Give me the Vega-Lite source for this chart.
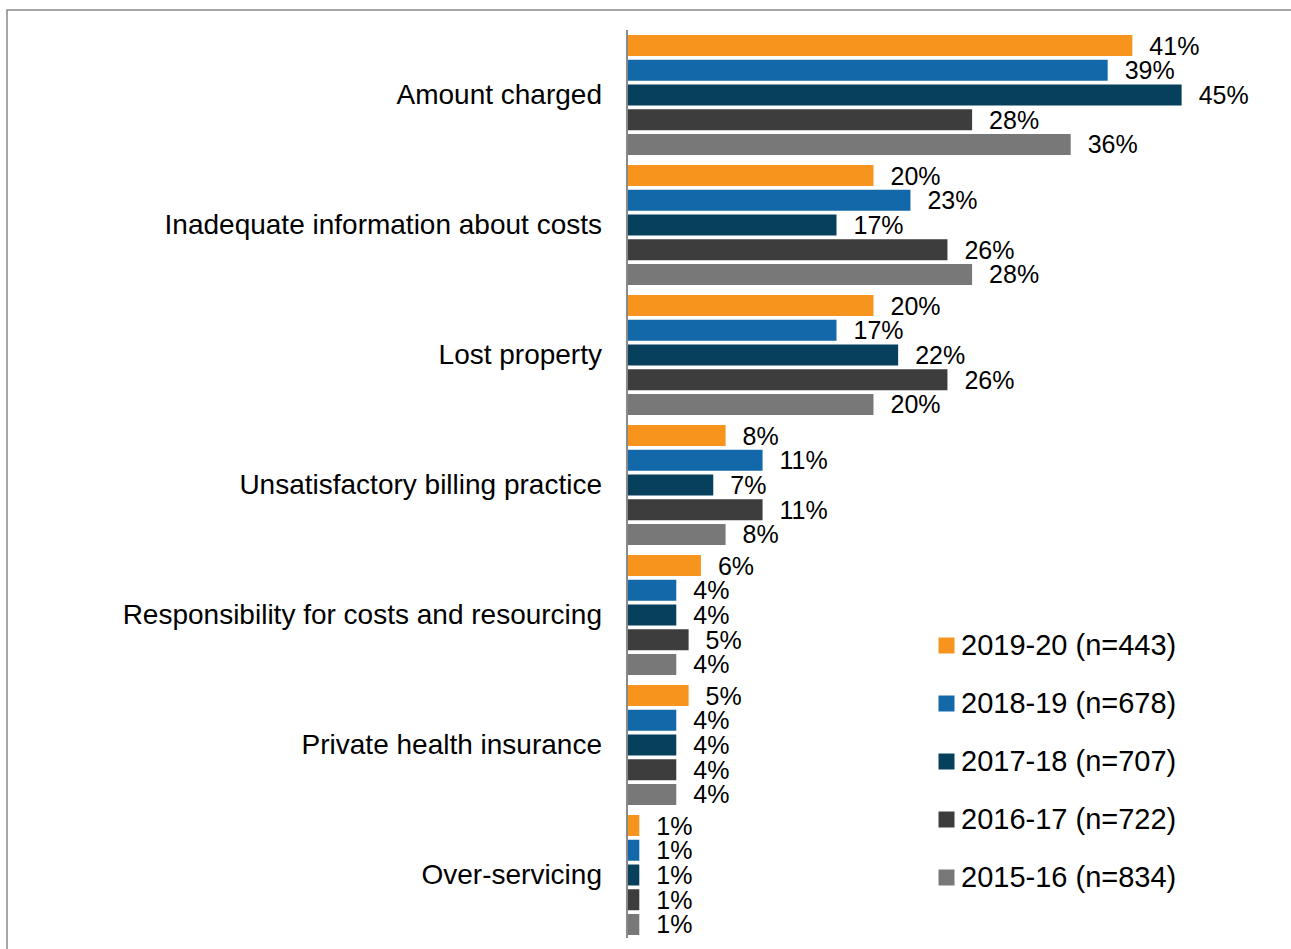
{
  "$schema": "https://vega.github.io/schema/vega-lite/v6.json",
  "width": 1290,
  "height": 945,
  "autosize": {"type": "none"},
  "padding": {"left": 7, "top": 10, "right": 0, "bottom": 0},
  "background": "white",
  "config": {
    "view": {"stroke": "#888888", "strokeWidth": 1.5},
    "font": "Liberation Sans"
  },
  "datasets": {
    "bars": [
      {"cat": "Amount charged", "year": "2019-20 (n=443)", "v": 41},
      {"cat": "Amount charged", "year": "2018-19 (n=678)", "v": 39},
      {"cat": "Amount charged", "year": "2017-18 (n=707)", "v": 45},
      {"cat": "Amount charged", "year": "2016-17 (n=722)", "v": 28},
      {"cat": "Amount charged", "year": "2015-16 (n=834)", "v": 36},
      {"cat": "Inadequate information about costs", "year": "2019-20 (n=443)", "v": 20},
      {"cat": "Inadequate information about costs", "year": "2018-19 (n=678)", "v": 23},
      {"cat": "Inadequate information about costs", "year": "2017-18 (n=707)", "v": 17},
      {"cat": "Inadequate information about costs", "year": "2016-17 (n=722)", "v": 26},
      {"cat": "Inadequate information about costs", "year": "2015-16 (n=834)", "v": 28},
      {"cat": "Lost property", "year": "2019-20 (n=443)", "v": 20},
      {"cat": "Lost property", "year": "2018-19 (n=678)", "v": 17},
      {"cat": "Lost property", "year": "2017-18 (n=707)", "v": 22},
      {"cat": "Lost property", "year": "2016-17 (n=722)", "v": 26},
      {"cat": "Lost property", "year": "2015-16 (n=834)", "v": 20},
      {"cat": "Unsatisfactory billing practice", "year": "2019-20 (n=443)", "v": 8},
      {"cat": "Unsatisfactory billing practice", "year": "2018-19 (n=678)", "v": 11},
      {"cat": "Unsatisfactory billing practice", "year": "2017-18 (n=707)", "v": 7},
      {"cat": "Unsatisfactory billing practice", "year": "2016-17 (n=722)", "v": 11},
      {"cat": "Unsatisfactory billing practice", "year": "2015-16 (n=834)", "v": 8},
      {"cat": "Responsibility for costs and resourcing", "year": "2019-20 (n=443)", "v": 6},
      {"cat": "Responsibility for costs and resourcing", "year": "2018-19 (n=678)", "v": 4},
      {"cat": "Responsibility for costs and resourcing", "year": "2017-18 (n=707)", "v": 4},
      {"cat": "Responsibility for costs and resourcing", "year": "2016-17 (n=722)", "v": 5},
      {"cat": "Responsibility for costs and resourcing", "year": "2015-16 (n=834)", "v": 4},
      {"cat": "Private health insurance", "year": "2019-20 (n=443)", "v": 5},
      {"cat": "Private health insurance", "year": "2018-19 (n=678)", "v": 4},
      {"cat": "Private health insurance", "year": "2017-18 (n=707)", "v": 4},
      {"cat": "Private health insurance", "year": "2016-17 (n=722)", "v": 4},
      {"cat": "Private health insurance", "year": "2015-16 (n=834)", "v": 4},
      {"cat": "Over-servicing", "year": "2019-20 (n=443)", "v": 1},
      {"cat": "Over-servicing", "year": "2018-19 (n=678)", "v": 1},
      {"cat": "Over-servicing", "year": "2017-18 (n=707)", "v": 1},
      {"cat": "Over-servicing", "year": "2016-17 (n=722)", "v": 1},
      {"cat": "Over-servicing", "year": "2015-16 (n=834)", "v": 1}
    ],
    "cats": [
      {"cat": "Amount charged"},
      {"cat": "Inadequate information about costs"},
      {"cat": "Lost property"},
      {"cat": "Unsatisfactory billing practice"},
      {"cat": "Responsibility for costs and resourcing"},
      {"cat": "Private health insurance"},
      {"cat": "Over-servicing"}
    ]
  },
  "resolve": {"scale": {"y": "independent"}},
  "layer": [
    {
      "data": {"name": "bars"},
      "mark": {"type": "bar"},
      "encoding": {
        "y": {
          "field": "cat", "type": "nominal", "axis": null,
          "scale": {
            "domain": ["Amount charged", "Inadequate information about costs", "Lost property", "Unsatisfactory billing practice", "Responsibility for costs and resourcing", "Private health insurance", "Over-servicing"],
            "range": [20, 930], "paddingInner": 0.077, "paddingOuter": 0.0385
          }
        },
        "yOffset": {
          "field": "year", "type": "nominal",
          "scale": {
            "domain": ["2019-20 (n=443)", "2018-19 (n=678)", "2017-18 (n=707)", "2016-17 (n=722)", "2015-16 (n=834)"],
            "paddingInner": 0.1515, "paddingOuter": 0
          }
        },
        "x": {
          "field": "v", "type": "quantitative", "axis": null,
          "scale": {"domain": [-50.3, 54.36], "nice": false, "zero": false}
        },
        "color": {
          "field": "year", "type": "nominal",
          "scale": {
            "domain": ["2019-20 (n=443)", "2018-19 (n=678)", "2017-18 (n=707)", "2016-17 (n=722)", "2015-16 (n=834)"],
            "range": ["#F7941E", "#1368A9", "#06405D", "#3D3D3D", "#787878"]
          },
          "legend": {
            "orient": "none", "legendX": 925, "legendY": 621,
            "title": null, "direction": "vertical",
            "symbolType": "square", "symbolSize": 256, "symbolStrokeWidth": 0, "symbolOpacity": 1,
            "labelFontSize": 29, "labelColor": "black", "labelLimit": 400,
            "labelOffset": 0, "rowPadding": 28, "labelFont": "Liberation Sans"
          }
        }
      }
    },
    {
      "data": {"name": "bars"},
      "mark": {"type": "text", "align": "left", "baseline": "middle", "dx": 17, "dy": 1, "fontSize": 25, "color": "black", "text": {"expr": "datum.v + '%'"}},
      "encoding": {
        "y": {
          "field": "cat", "type": "nominal", "axis": null,
          "scale": {
            "domain": ["Amount charged", "Inadequate information about costs", "Lost property", "Unsatisfactory billing practice", "Responsibility for costs and resourcing", "Private health insurance", "Over-servicing"],
            "range": [20, 930], "paddingInner": 0.077, "paddingOuter": 0.0385
          }
        },
        "yOffset": {"field": "year", "type": "nominal"},
        "x": {"field": "v", "type": "quantitative"}
      }
    },
    {
      "data": {"name": "cats"},
      "mark": {"type": "text", "align": "right", "baseline": "middle", "dx": -25, "dy": 1, "fontSize": 28, "color": "black"},
      "encoding": {
        "y": {
          "field": "cat", "type": "nominal", "axis": null,
          "scale": {
            "domain": ["Amount charged", "Inadequate information about costs", "Lost property", "Unsatisfactory billing practice", "Responsibility for costs and resourcing", "Private health insurance", "Over-servicing"],
            "range": [20, 930], "paddingInner": 0.077, "paddingOuter": 0.0385
          }
        },
        "x": {"datum": 0, "type": "quantitative"},
        "text": {"field": "cat", "type": "nominal"}
      }
    },
    {
      "data": {"values": [{}]},
      "mark": {"type": "rule", "color": "#898989", "strokeWidth": 2},
      "encoding": {
        "x": {"datum": 0, "type": "quantitative"},
        "y": {"datum": 1, "type": "quantitative", "axis": null, "scale": {"domain": [0, 1], "range": [928, 20]}},
        "y2": {"datum": 0}
      }
    }
  ]
}
